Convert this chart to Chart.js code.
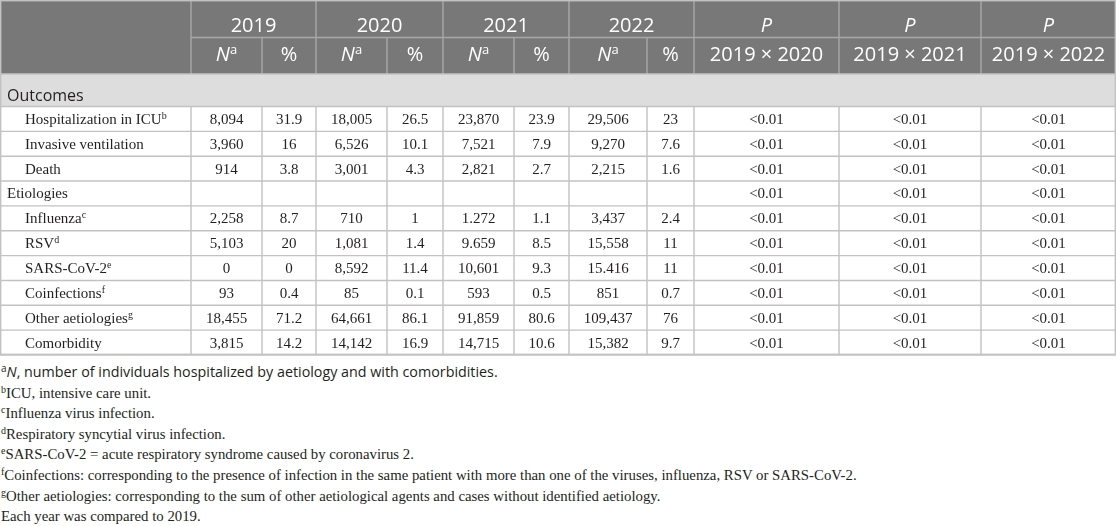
<!DOCTYPE html>
<html>
<head>
<meta charset="utf-8">
<script src="https://cdn.jsdelivr.net/npm/chart.js@4.4.0/dist/chart.umd.min.js"></script>
<style>
body { margin: 0; background: #fff; width: 1116px; height: 526px; overflow: hidden; position: relative; }
#box { position: absolute; left: 0; top: 0; width: 1116px; height: 357px; }
#notes { position: absolute; left: 1px; top: 362px; font: 14.8px/20.6px "Liberation Serif", serif; color: #231f20; white-space: nowrap; }
#notes sup { font-size: 10px; line-height: 0; vertical-align: 5px; }
#notes .sans { font-family: "Open Sans", sans-serif; font-size: 14.3px; }
</style>
</head>
<body>
<div id="box"><canvas id="table" width="1116" height="357"></canvas></div>
<div id="notes">
  <div class="sans"><sup>a</sup><i>N</i>, number of individuals hospitalized by aetiology and with comorbidities.</div>
  <div><sup>b</sup>ICU, intensive care unit.</div>
  <div><sup>c</sup>Influenza virus infection.</div>
  <div><sup>d</sup>Respiratory syncytial virus infection.</div>
  <div><sup>e</sup>SARS-CoV-2 = acute respiratory syndrome caused by coronavirus 2.</div>
  <div><sup>f</sup>Coinfections: corresponding to the presence of infection in the same patient with more than one of the viruses, influenza, RSV or SARS-CoV-2.</div>
  <div><sup>g</sup>Other aetiologies: corresponding to the sum of other aetiological agents and cases without identified aetiology.</div>
  <div>Each year was compared to 2019.</div>
</div>
<script>
const years = ['2019', '2020', '2021', '2022']
const pHeaders = ['2019 × 2020', '2019 × 2021', '2019 × 2022']
const sectionLabel = 'Outcomes'
const rowLabels = ['Hospitalization in ICU', 'Invasive ventilation', 'Death', 'Etiologies', 'Influenza', 'RSV', 'SARS-CoV-2', 'Coinfections', 'Other aetiologies', 'Comorbidity']
const rowNotes = ['b', '', '', '', 'c', 'd', 'e', 'f', 'g', '']
const groupRows = ['Etiologies']

const n2019 = ['8,094', '3,960', '914', '', '2,258', '5,103', '0', '93', '18,455', '3,815']
const pct2019 = ['31.9', '16', '3.8', '', '8.7', '20', '0', '0.4', '71.2', '14.2']
const n2020 = ['18,005', '6,526', '3,001', '', '710', '1,081', '8,592', '85', '64,661', '14,142']
const pct2020 = ['26.5', '10.1', '4.3', '', '1', '1.4', '11.4', '0.1', '86.1', '16.9']
const n2021 = ['23,870', '7,521', '2,821', '', '1.272', '9.659', '10,601', '593', '91,859', '14,715']
const pct2021 = ['23.9', '7.9', '2.7', '', '1.1', '8.5', '9.3', '0.5', '80.6', '10.6']
const n2022 = ['29,506', '9,270', '2,215', '', '3,437', '15,558', '15.416', '851', '109,437', '15,382']
const pct2022 = ['23', '7.6', '1.6', '', '2.4', '11', '11', '0.7', '76', '9.7']
const p2020 = ['<0.01', '<0.01', '<0.01', '<0.01', '<0.01', '<0.01', '<0.01', '<0.01', '<0.01', '<0.01']
const p2021 = ['<0.01', '<0.01', '<0.01', '<0.01', '<0.01', '<0.01', '<0.01', '<0.01', '<0.01', '<0.01']
const p2022 = ['<0.01', '<0.01', '<0.01', '<0.01', '<0.01', '<0.01', '<0.01', '<0.01', '<0.01', '<0.01']

// layout: column and row edges in scale units
const colEdges = [0, 191, 262, 316, 387, 443, 514, 569, 647, 694, 839, 981, 1116]
const headEdges = [0, 37.5, 74, 106.5]
const bodyRowHeight = 24.85
const rowEdges = headEdges.concat(rowLabels.map((_, i) => headEdges[3] + bodyRowHeight * (i + 1)))

const SANS = '"Open Sans", sans-serif'
const SERIF = '"Liberation Serif", serif'

// draws pieces of text (with optional raised superscripts) centred or left aligned
function drawParts(ctx, parts, x, y, align) {
    const widths = parts.map(p => { ctx.font = p.font; return ctx.measureText(p.text).width })
    const total = widths.reduce((a, b) => a + b, 0)
    let cx = align === 'center' ? x - total / 2 : x
    ctx.textAlign = 'left'
    ctx.textBaseline = 'alphabetic'
    parts.forEach((p, i) => {
        ctx.font = p.font
        ctx.fillText(p.text, cx, y - (p.rise || 0))
        cx += widths[i]
    })
}

const tablePlugin = {
    id: 'tableCells',
    afterDraw(chart) {
        const { ctx, scales: { x, y } } = chart
        const px = v => x.getPixelForValue(v)
        const py = v => y.getPixelForValue(v)
        const left = px(colEdges[0]), right = px(colEdges[colEdges.length - 1])
        const bottom = py(rowEdges[rowEdges.length - 1])
        ctx.save()

        // backgrounds
        ctx.fillStyle = '#787878'
        ctx.fillRect(left, py(0), right - left, py(headEdges[2]) - py(0))
        ctx.fillStyle = '#dddddd'
        ctx.fillRect(left, py(headEdges[2]), right - left, py(headEdges[3]) - py(headEdges[2]))

        const line = (x1, y1, x2, y2) => { ctx.beginPath(); ctx.moveTo(x1, y1); ctx.lineTo(x2, y2); ctx.stroke() }

        // header grid
        ctx.strokeStyle = '#a8a8a8'
        ctx.lineWidth = 1.4
        line(px(colEdges[1]), py(headEdges[1]), right, py(headEdges[1]))
        colEdges.slice(1, -1).forEach((c, i) => {
            const top = (i % 2 === 1 && i < 8) ? headEdges[1] : 0
            line(px(c), py(top), px(c), py(headEdges[2]))
        })

        // body grid
        ctx.strokeStyle = '#c2c2c2'
        line(left, py(headEdges[2]), right, py(headEdges[2]))
        rowEdges.slice(3).forEach(r => line(left, py(r), right, py(r)))
        colEdges.slice(1, -1).forEach(c => line(px(c), py(headEdges[3]), px(c), bottom))
        ctx.strokeRect(left + 0.7, py(0) + 0.7, right - left - 1.4, bottom - py(0) - 1.4)

        // header text
        ctx.fillStyle = '#ffffff'
        const mid = (a, b) => (px(a) + px(b)) / 2
        const r1 = py(headEdges[1]) - 6, r2 = py(headEdges[2]) - 13
        years.forEach((yr, i) => {
            drawParts(ctx, [{ text: yr, font: `20px ${SANS}` }], mid(colEdges[1 + 2 * i], colEdges[3 + 2 * i]), r1, 'center')
            drawParts(ctx, [{ text: 'N', font: `italic 20px ${SANS}` }, { text: 'a', font: `13px ${SANS}`, rise: 7 }],
                mid(colEdges[1 + 2 * i], colEdges[2 + 2 * i]), r2, 'center')
            drawParts(ctx, [{ text: '%', font: `20px ${SANS}` }], mid(colEdges[2 + 2 * i], colEdges[3 + 2 * i]), r2, 'center')
        })
        pHeaders.forEach((h, i) => {
            drawParts(ctx, [{ text: 'P', font: `italic 20px ${SANS}` }], mid(colEdges[9 + i], colEdges[10 + i]), r1, 'center')
            drawParts(ctx, [{ text: h, font: `20px ${SANS}` }], mid(colEdges[9 + i], colEdges[10 + i]), r2, 'center')
        })

        // section row
        ctx.fillStyle = '#231f20'
        drawParts(ctx, [{ text: sectionLabel, font: `16px ${SANS}` }], px(colEdges[0]) + 7, py(headEdges[3]) - 6, 'left')

        // body rows
        const cols = [n2019, pct2019, n2020, pct2020, n2021, pct2021, n2022, pct2022, p2020, p2021, p2022]
        rowLabels.forEach((label, r) => {
            const base = (py(rowEdges[3 + r]) + py(rowEdges[4 + r])) / 2 + 5
            const isGroup = groupRows.includes(label)
            const parts = [{ text: label, font: `15px ${SERIF}` }]
            if (rowNotes[r]) parts.push({ text: rowNotes[r], font: `10px ${SERIF}`, rise: 5 })
            drawParts(ctx, parts, px(colEdges[0]) + (isGroup ? 7 : 25), base, 'left')
            cols.forEach((col, c) => {
                if (col[r]) drawParts(ctx, [{ text: col[r], font: `15px ${SERIF}` }], mid(colEdges[1 + c], colEdges[2 + c]), base, 'center')
            })
        })
        ctx.restore()
    }
}

new Chart('table', {
    type: 'scatter',
    data: { datasets: [] },
    options: {
        responsive: false,
        animation: false,
        layout: { padding: 0 },
        scales: {
            x: { type: 'linear', min: colEdges[0], max: colEdges[colEdges.length - 1], display: false },
            y: { type: 'linear', min: 0, max: 357, reverse: true, display: false }
        },
        plugins: { legend: { display: false }, tooltip: { enabled: false } }
    },
    plugins: [tablePlugin]
})
</script>
</body>
</html>
